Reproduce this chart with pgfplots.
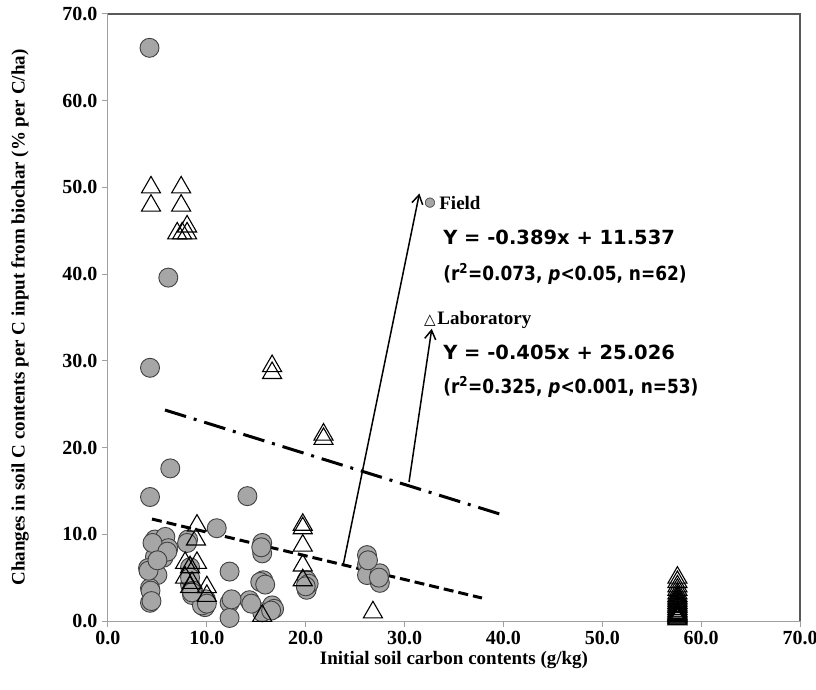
\documentclass[border=0pt]{standalone}
\usepackage{pgfplots}
\pgfplotsset{compat=1.18}
\usepackage{fontspec}
\setmainfont{Liberation Serif}
\newfontfamily\eqfont{DejaVu Sans}
\usetikzlibrary{arrows.meta}
\definecolor{fieldfill}{HTML}{A6A6A6}
\definecolor{fieldedge}{HTML}{404040}
\definecolor{axisgray}{HTML}{A0A0A0}
\definecolor{framegray}{HTML}{595959}
\begin{document}
\begin{tikzpicture}
\useasboundingbox (-108pt,-68pt) rectangle (708pt,621pt);
\begin{axis}[
  scale only axis, width=692pt, height=607pt,
  xmin=0, xmax=70, ymin=0, ymax=70,
  xtick={0,10,...,70}, ytick={0,10,...,70},
  axis x line=bottom, axis y line=left,
  axis line style={draw=axisgray, line width=1pt, -},
  tick align=outside, major tick length=6pt,
  tick style={draw=axisgray, line width=1pt},
  tick label style={font=\bfseries\fontsize{20}{20}\selectfont, text=black},
  xticklabel style={yshift=-1pt},
  yticklabel style={xshift=-1pt},
  /pgf/number format/.cd, fixed, fixed zerofill, precision=1, assume math mode=true,
  /pgfplots/.cd,
  xlabel={Initial soil carbon contents (g/kg)},
  ylabel={Changes in soil C contents per C input from biochar (\% per C/ha)},
  label style={font=\bfseries\fontsize{19}{22}\selectfont},
  xlabel style={at={(axis description cs:0.5,-0.064)}, anchor=center},
  ylabel style={at={(axis description cs:-0.127,0.5)}, anchor=center},
  clip=false,
]
\draw[framegray, line width=1.2pt] (rel axis cs:0,1) -- (rel axis cs:1,1) -- (rel axis cs:1,0);

% Field
\addplot[only marks, mark=*, mark size=9.5pt,
  mark options={fill=fieldfill, draw=fieldedge, line width=0.9pt}]
coordinates {
(4.2,66.1)(6.1,39.6)(4.25,29.2)(6.3,17.6)(4.25,14.3)(14.1,14.4)(11.0,10.7)
(4.75,9.4)(5.8,9.7)(6.1,8.4)(4.75,7.4)(5.6,7.3)(4.05,6.1)(5.0,5.3)(4.25,3.8)
(4.25,2.1)(8.1,9.4)(8.3,6.2)(8.3,4.2)(8.5,3.0)(9.6,2.1)(9.8,1.6)(12.3,5.7)
(12.3,2.1)(12.3,0.35)(14.3,2.4)(15.6,9.0)(15.6,7.8)(15.7,4.7)(15.4,4.5)
(16.6,1.8)(15.6,1.0)(20.1,4.7)(20.1,3.6)(26.2,7.6)(26.2,6.5)(26.2,5.3)
(27.5,5.5)(27.5,4.4)
(4.3,3.5)(4.5,9.0)(8.3,5.0)(8.6,3.5)(9.9,2.5)(16.8,1.4)(15.9,4.2)(15.5,8.5)
(12.5,2.5)(20.3,4.3)(26.3,7.0)(9.5,1.8)(6.0,8.0)(4.1,5.8)(8.0,9.0)(16.5,1.2)
(14.5,2.0)(20.0,4.0)(27.4,5.0)(5.0,7.0)(4.4,2.3)(10.0,2.0)(8.5,3.3)
};

% Laboratory
\addplot[only marks, mark=triangle, mark size=11pt,
  mark options={draw=black, line width=1.1pt}]
coordinates {
(4.35,50.0)(4.35,47.9)(7.4,50.0)(7.4,47.9)(7.0,44.7)(7.5,44.7)(8.0,45.5)(8.0,44.7)
(16.6,29.4)(16.6,28.6)(21.8,21.5)(21.8,21.0)(9.0,11.0)(8.9,9.4)(7.8,6.7)(9.0,6.7)
(8.3,6.2)(7.8,5.0)(8.5,4.4)(8.3,3.9)(10.0,3.9)(10.0,2.9)(19.7,11.1)(19.7,10.7)
(19.7,8.7)(19.7,6.4)(19.7,4.7)(15.6,0.6)(26.8,1.0)
(57.6,5.0)(57.6,4.5)(57.6,4.0)(57.6,3.6)(57.6,3.2)(57.6,2.9)(57.6,2.7)(57.6,2.5)
(57.6,2.3)(57.6,2.1)(57.6,1.9)(57.6,1.7)(57.6,1.6)(57.6,1.4)(57.6,1.2)(57.6,1.1)
(57.6,0.9)(57.6,0.8)(57.6,0.7)(57.6,0.6)(57.6,0.5)(57.6,0.4)(57.6,0.3)(57.6,0.2)
};

% regression lines
\addplot[black, line width=3pt, dash pattern=on 10pt off 5pt] coordinates {(4.45,11.76)(37.83,2.65)};
\addplot[black, line width=3pt, dash pattern=on 22pt off 8pt on 3pt off 8pt] coordinates {(5.77,24.33)(39.96,12.22)};

% arrows
\draw[line width=1.5pt, -{Straight Barb[length=9pt,width=11pt]}] (axis cs:23.77,6.34) -- (axis cs:31.5,49.3);
\draw[line width=1.5pt, -{Straight Barb[length=9pt,width=11pt]}] (axis cs:30.45,16.03) -- (axis cs:32.75,33.7);

% legend text
\node[anchor=center, font=\eqfont\fontsize{13}{13}\selectfont, inner sep=0pt] at (axis cs:32.57,48.2)
  {\rlap{\textcolor{fieldfill}{●}}\textcolor{fieldedge}{○}};
\node[anchor=west, font=\bfseries\fontsize{19}{19}\selectfont, inner sep=0pt] at (axis cs:33.5,48.2) {Field};
\node[anchor=west, font=\eqfont\bfseries\fontsize{19.5}{19.5}\selectfont, inner sep=0pt] at (axis cs:33.9,44.2) {Y = -0.389x + 11.537};
\node[anchor=west, font=\eqfont\bfseries\fontsize{19.5}{19.5}\selectfont, inner sep=0pt] at (axis cs:33.9,40.0) {\scalebox{0.87}[1]{(r\textsuperscript{2}=0.073, \textit{p}<0.05, n=62)}};
\node[anchor=center, font=\eqfont\fontsize{15}{15}\selectfont, inner sep=0pt] at (axis cs:32.57,34.7) {△};
\node[anchor=west, font=\bfseries\fontsize{19}{19}\selectfont, inner sep=0pt] at (axis cs:33.3,34.7) {Laboratory};
\node[anchor=west, font=\eqfont\bfseries\fontsize{19.5}{19.5}\selectfont, inner sep=0pt] at (axis cs:33.9,31.0) {Y = -0.405x + 25.026};
\node[anchor=west, font=\eqfont\bfseries\fontsize{19.5}{19.5}\selectfont, inner sep=0pt] at (axis cs:33.9,27.0) {\scalebox{0.87}[1]{(r\textsuperscript{2}=0.325, \textit{p}<0.001, n=53)}};
\end{axis}
\end{tikzpicture}
\end{document}
